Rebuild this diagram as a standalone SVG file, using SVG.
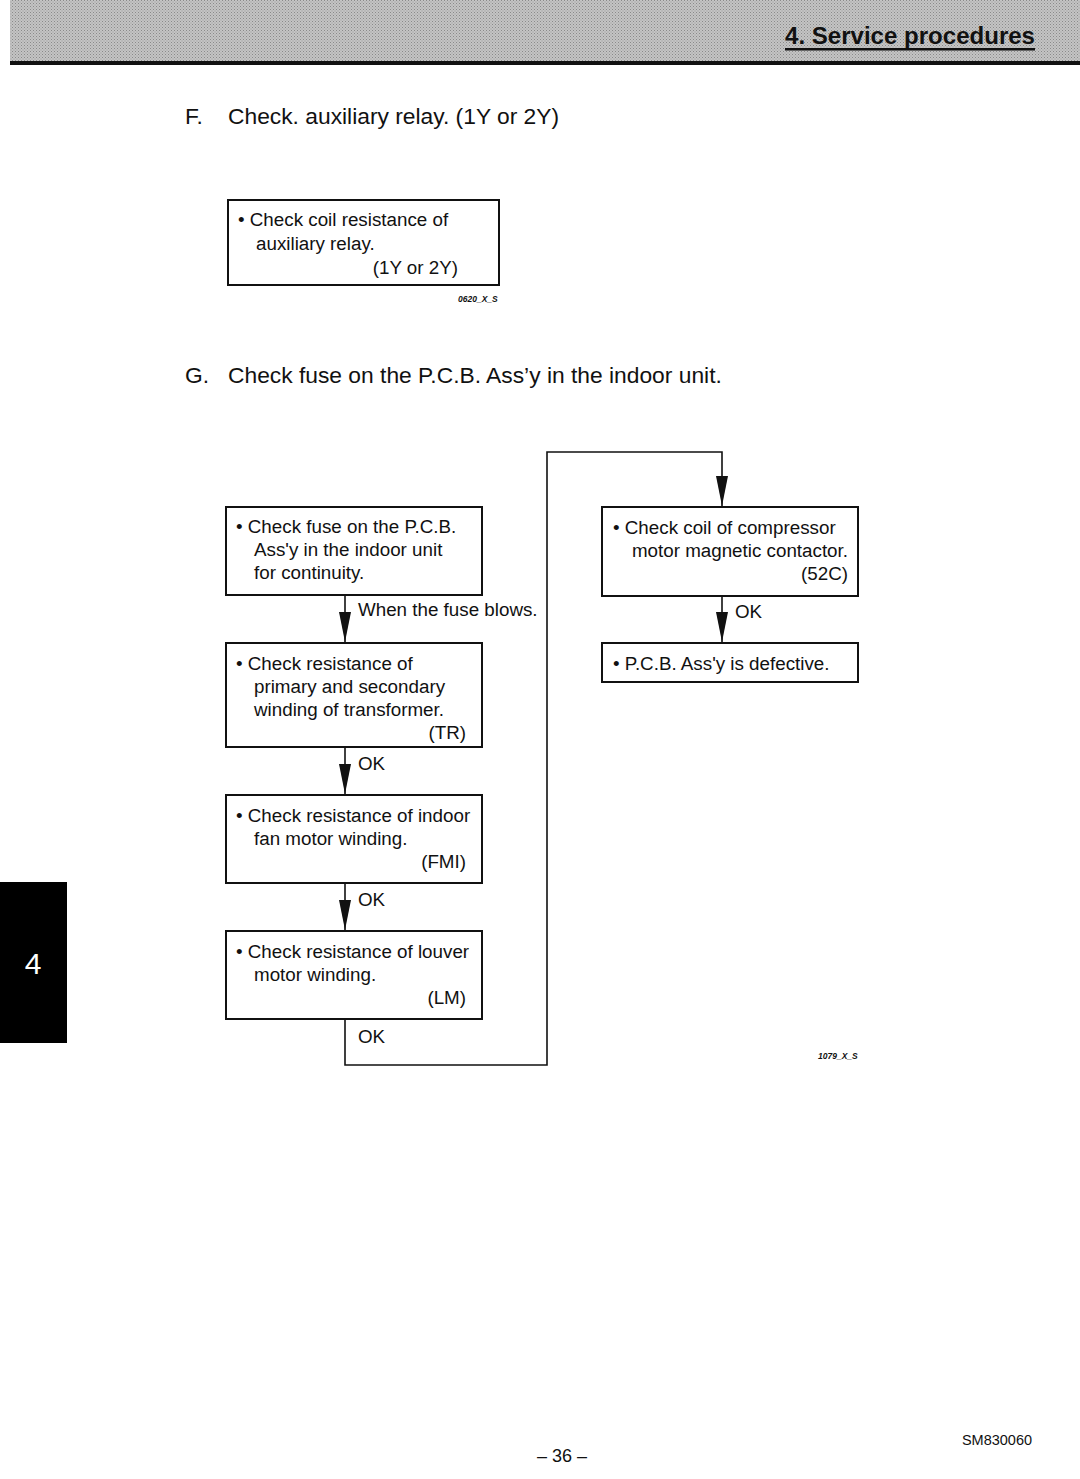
<svg xmlns="http://www.w3.org/2000/svg" width="1080" height="1479" viewBox="0 0 1080 1479">
<defs>
<style>
.t{font-family:"Liberation Sans",Arial,sans-serif;font-size:18.8px;fill:#111}
.h{font-family:"Liberation Sans",Arial,sans-serif;font-size:22.8px;fill:#111}
.box{fill:#fff;stroke:#111;stroke-width:2}
.ln{fill:none;stroke:#111;stroke-width:1.6}
.sm{font-family:"Liberation Sans",Arial,sans-serif;font-size:8.5px;font-style:italic;font-weight:bold;fill:#111}
</style>
<marker id="arr" viewBox="0 0 30 12" refX="30" refY="6" markerWidth="30" markerHeight="12" markerUnits="userSpaceOnUse" orient="auto">
<path d="M0,0 L30,6 L0,12 Z" fill="#111"/>
</marker>
<pattern id="dots" width="3" height="3" patternUnits="userSpaceOnUse">
<rect width="3" height="3" fill="#c4c4c4"/>
<rect width="1" height="1" fill="#8a8a8a"/>
<rect x="1.5" y="1.5" width="1" height="1" fill="#9a9a9a"/>
</pattern>
</defs>
<rect width="1080" height="1479" fill="#fff"/>
<g id="header">
<rect x="10" y="0" width="1070" height="62" fill="url(#dots)"/>
<rect x="10" y="61" width="1070" height="4" fill="#111"/>
<text x="785" y="44" font-family="'Liberation Sans',Arial,sans-serif" font-size="24" font-weight="bold" fill="#111" textLength="250" lengthAdjust="spacingAndGlyphs">4. Service procedures</text>
<rect x="785" y="48" width="250" height="2.5" fill="#111"/>
</g>
<g id="tab">
<rect x="0" y="882" width="67" height="161" fill="#000"/>
<text x="33" y="974" text-anchor="middle" font-family="'Liberation Sans',Arial,sans-serif" font-size="30" fill="#fff">4</text>
</g>
<text class="h" x="185" y="124">F.</text>
<text class="h" x="228" y="124">Check. auxiliary relay. (1Y or 2Y)</text>
<g id="node-relay">
<rect class="box" x="228" y="200" width="271" height="85"/>
<text class="t" x="238" y="226">• Check coil resistance of</text>
<text class="t" x="256" y="250">auxiliary relay.</text>
<text class="t" x="458" y="274" text-anchor="end">(1Y or 2Y)</text>
</g>
<text class="sm" x="458" y="302">0620_X_S</text>
<text class="h" x="185" y="383">G.</text>
<text class="h" x="228" y="383">Check fuse on the P.C.B. Ass’y in the indoor unit.</text>
<g id="connectors">
<line class="ln" x1="345" y1="596" x2="345" y2="642" marker-end="url(#arr)"/>
<line class="ln" x1="345" y1="748" x2="345" y2="794" marker-end="url(#arr)"/>
<line class="ln" x1="345" y1="884" x2="345" y2="930" marker-end="url(#arr)"/>
<polyline class="ln" points="345,1020 345,1065 547,1065 547,452 722,452 722,506" marker-end="url(#arr)"/>
<line class="ln" x1="722" y1="597" x2="722" y2="642" marker-end="url(#arr)"/>
<text class="t" x="358" y="616">When the fuse blows.</text>
<text class="t" x="358" y="770">OK</text>
<text class="t" x="358" y="906">OK</text>
<text class="t" x="358" y="1043">OK</text>
<text class="t" x="735" y="618">OK</text>
</g>
<g id="node-fuse">
<rect class="box" x="226" y="507" width="256" height="88"/>
<text class="t" x="236" y="533">• Check fuse on the P.C.B.</text>
<text class="t" x="254" y="556">Ass'y in the indoor unit</text>
<text class="t" x="254" y="579">for continuity.</text>
</g>
<g id="node-transformer">
<rect class="box" x="226" y="643" width="256" height="104"/>
<text class="t" x="236" y="670">• Check resistance of</text>
<text class="t" x="254" y="693">primary and secondary</text>
<text class="t" x="254" y="716">winding of transformer.</text>
<text class="t" x="466" y="739" text-anchor="end">(TR)</text>
</g>
<g id="node-fan">
<rect class="box" x="226" y="795" width="256" height="88"/>
<text class="t" x="236" y="822">• Check resistance of indoor</text>
<text class="t" x="254" y="845">fan motor winding.</text>
<text class="t" x="466" y="868" text-anchor="end">(FMI)</text>
</g>
<g id="node-louver">
<rect class="box" x="226" y="931" width="256" height="88"/>
<text class="t" x="236" y="958">• Check resistance of louver</text>
<text class="t" x="254" y="981">motor winding.</text>
<text class="t" x="466" y="1004" text-anchor="end">(LM)</text>
</g>
<g id="node-contactor">
<rect class="box" x="602" y="507" width="256" height="89"/>
<text class="t" x="613" y="534">• Check coil of compressor</text>
<text class="t" x="848" y="557" text-anchor="end">motor magnetic contactor.</text>
<text class="t" x="848" y="580" text-anchor="end">(52C)</text>
</g>
<g id="node-defective">
<rect class="box" x="602" y="643" width="256" height="39"/>
<text class="t" x="613" y="670">• P.C.B. Ass'y is defective.</text>
</g>
<text class="sm" x="818" y="1059">1079_X_S</text>
<text x="562" y="1462" text-anchor="middle" font-family="'Liberation Sans',Arial,sans-serif" font-size="18" fill="#111">– 36 –</text>
<text x="997" y="1445" text-anchor="middle" font-family="'Liberation Sans',Arial,sans-serif" font-size="14.5" fill="#111">SM830060</text>
</svg>
